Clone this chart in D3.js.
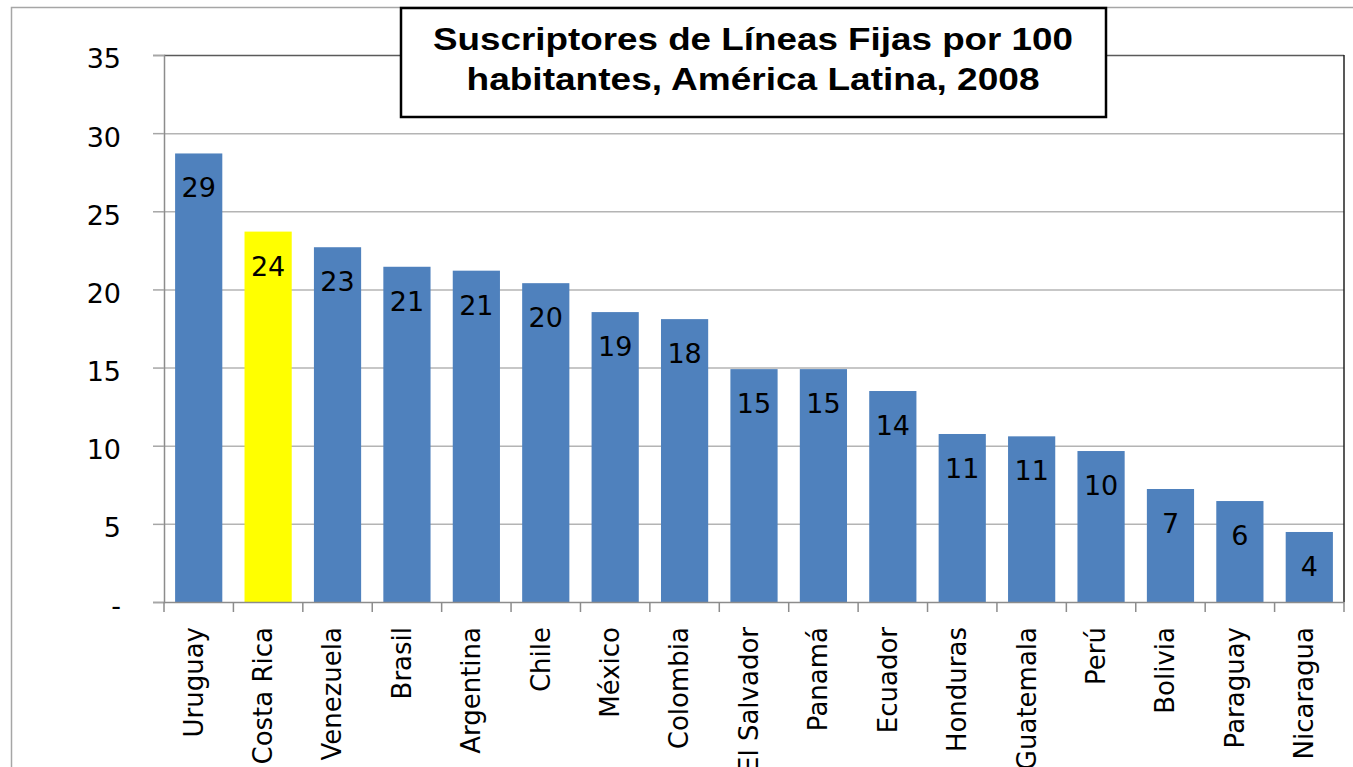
<!DOCTYPE html>
<html>
<head>
<meta charset="utf-8">
<script src="https://cdn.jsdelivr.net/npm/d3@7"></script>
<style>
  html, body { margin: 0; padding: 0; background: #fff; overflow: hidden; }
  svg { display: block; }
</style>
</head>
<body>
<div id="chart"></div>
<script>
// ── Data ──
const countries = ['Uruguay','Costa Rica','Venezuela','Brasil','Argentina','Chile','México','Colombia',
  'El Salvador','Panamá','Ecuador','Honduras','Guatemala','Perú','Bolivia','Paraguay','Nicaragua'];
const values = [28.7, 23.7, 22.7, 21.45, 21.2, 20.4, 18.55, 18.1, 14.9, 14.9, 13.5, 10.75, 10.6, 9.66, 7.23, 6.46, 4.48];
const highlight = 'Costa Rica';
const yTicks = [0, 5, 10, 15, 20, 25, 30, 35];
const titleLines = ['Suscriptores de Líneas Fijas por 100', 'habitantes, América Latina, 2008'];

const W = 1353, H = 767;
const plot = { left: 164, right: 1344, top: 55, bottom: 602 };
const NUM_FONT = 'DejaVu Sans, Verdana, sans-serif';

const svg = d3.select('#chart').append('svg').attr('width', W).attr('height', H);

// outer chart border
svg.append('rect').attr('x', 11.5).attr('y', 7.5).attr('width', W).attr('height', H)
  .attr('fill', 'none').attr('stroke', '#a6a6a6').attr('stroke-width', 1.5);

const x = d3.scaleBand().domain(countries).range([plot.left, plot.right])
  .paddingInner(0.32).paddingOuter(0.16);
const y = d3.scaleLinear().domain([0, 35]).range([plot.bottom, plot.top]);

// gridlines
svg.append('g').selectAll('line').data(yTicks.filter(t => t > 0 && t < 35)).enter().append('line')
  .attr('x1', plot.left).attr('x2', plot.right)
  .attr('y1', d => y(d) + 0.5).attr('y2', d => y(d) + 0.5)
  .attr('stroke', '#b4b4b4').attr('stroke-width', 1.5);

// plot border top/right
svg.append('line').attr('x1', plot.left).attr('x2', plot.right)
  .attr('y1', y(35) + 0.5).attr('y2', y(35) + 0.5).attr('stroke', '#5a5a5a').attr('stroke-width', 1.5);
svg.append('line').attr('x1', plot.right).attr('x2', plot.right)
  .attr('y1', y(35)).attr('y2', plot.bottom).attr('stroke', '#222').attr('stroke-width', 1.5);

// bars
svg.append('g').selectAll('rect').data(countries).enter().append('rect')
  .attr('x', d => x(d)).attr('width', x.bandwidth())
  .attr('y', (d, i) => y(values[i])).attr('height', (d, i) => y(0) - y(values[i]))
  .attr('fill', d => d === highlight ? '#ffff00' : '#4f81bd');

// value labels
svg.append('g').selectAll('text').data(countries).enter().append('text')
  .attr('x', d => x(d) + x.bandwidth() / 2)
  .attr('y', (d, i) => y(values[i]) + 44)
  .attr('text-anchor', 'middle')
  .style('font-family', NUM_FONT).style('font-size', '27px').style('fill', '#000')
  .text((d, i) => Math.round(values[i]));

// y axis
const yAxis = svg.append('g').attr('transform', 'translate(' + plot.left + ',0)')
  .call(d3.axisLeft(y).tickValues(yTicks).tickSize(11).tickPadding(32)
    .tickFormat(d => d === 0 ? '-' : d));
yAxis.select('.domain').attr('stroke', '#8c8c8c').attr('stroke-width', 1.5);
yAxis.selectAll('.tick line').attr('stroke', '#a6a6a6').attr('stroke-width', 1.5);
yAxis.selectAll('.tick text')
  .attr('dy', '0.48em')
  .style('font-family', NUM_FONT).style('font-size', '27px').style('fill', '#000');

// x axis: ticks at category boundaries
const bounds = countries.map(d => x(d) - x.step() * x.paddingInner() / 2).concat([plot.right]);
svg.append('line').attr('x1', plot.left).attr('x2', plot.right)
  .attr('y1', plot.bottom + 0.5).attr('y2', plot.bottom + 0.5)
  .attr('stroke', '#8c8c8c').attr('stroke-width', 1.5);
svg.append('g').selectAll('line').data(bounds).enter().append('line')
  .attr('x1', d => d).attr('x2', d => d)
  .attr('y1', plot.bottom).attr('y2', plot.bottom + 10)
  .attr('stroke', '#8c8c8c').attr('stroke-width', 1.5);

// category labels, rotated
svg.append('g').selectAll('text').data(countries).enter().append('text')
  .attr('transform', d => 'translate(' + (x(d) + x.bandwidth() / 2) + ',627) rotate(-90)')
  .attr('text-anchor', 'end').attr('dy', '0.15em')
  .style('font-family', NUM_FONT).style('font-size', '26px').style('fill', '#000')
  .text(d => d);

// title box
svg.append('rect').attr('x', 401).attr('y', 8).attr('width', 705).attr('height', 109)
  .attr('fill', '#fff').attr('stroke', '#000').attr('stroke-width', 2.5);
const titleWidths = [640, 573];
svg.append('g').selectAll('text').data(titleLines).enter().append('text')
  .attr('x', 753).attr('y', (d, i) => 49.5 + i * 40.5)
  .attr('text-anchor', 'middle')
  .attr('textLength', (d, i) => titleWidths[i]).attr('lengthAdjust', 'spacingAndGlyphs')
  .style('font-family', 'Liberation Sans, Arial, sans-serif').style('font-weight', 'bold')
  .style('font-size', '32px').style('fill', '#000')
  .text(d => d);
</script>
</body>
</html>
